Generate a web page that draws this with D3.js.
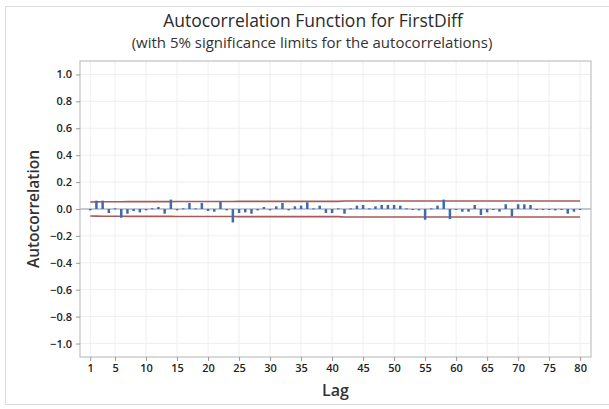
<!DOCTYPE html>
<html>
<head>
<meta charset="utf-8">
<script src="https://cdn.jsdelivr.net/npm/d3@7"></script>
<style>
  body { margin: 0; background: #fff; }
  svg { font-family: "Open Sans", "Noto Sans", sans-serif; }
</style>
</head>
<body>
<svg id="acf" width="609" height="409"></svg>
<script>
// lag 1..80
var lags = d3.range(1, 81);

var acf = [
  -0.01, 0.062, 0.062, -0.03, 0.005, -0.065, -0.035, -0.015, -0.025, -0.01,
  0.005, 0.015, -0.035, 0.07, -0.01, 0.005, 0.045, 0.005, 0.045, -0.015,
  -0.02, 0.055, -0.01, -0.1, -0.03, -0.025, -0.035, -0.01, 0.015, -0.01,
  0.02, 0.045, -0.01, 0.02, 0.025, 0.05, 0.005, 0.025, -0.03, -0.03,
  0.005, -0.035, 0.005, 0.025, 0.03, 0.005, 0.02, 0.03, 0.03, 0.03,
  0.025, 0.005, -0.005, -0.01, -0.08, 0.005, 0.025, 0.07, -0.075, -0.005,
  -0.02, -0.02, 0.03, -0.045, -0.025, -0.005, -0.02, 0.035, -0.055, 0.035,
  0.035, 0.03, 0.0, 0.0, -0.005, -0.01, 0.0, -0.035, -0.02, -0.005
];

// 5% significance limit for each lag (upper = +, lower = -)
var limits = [
  0.052, 0.053, 0.054, 0.054, 0.054, 0.054, 0.055, 0.055, 0.055, 0.055,
  0.055, 0.055, 0.055, 0.055, 0.056, 0.056, 0.056, 0.056, 0.056, 0.056,
  0.056, 0.056, 0.056, 0.056, 0.057, 0.057, 0.057, 0.057, 0.057, 0.057,
  0.057, 0.057, 0.057, 0.057, 0.057, 0.057, 0.057, 0.057, 0.057, 0.057,
  0.057, 0.060, 0.060, 0.060, 0.060, 0.060, 0.060, 0.060, 0.060, 0.060,
  0.060, 0.060, 0.060, 0.060, 0.060, 0.060, 0.060, 0.060, 0.060, 0.060,
  0.060, 0.060, 0.060, 0.060, 0.060, 0.060, 0.060, 0.060, 0.060, 0.060,
  0.060, 0.060, 0.060, 0.060, 0.060, 0.060, 0.060, 0.060, 0.060, 0.060
];

var xTicks = [1, 5, 10, 15, 20, 25, 30, 35, 40, 45, 50, 55, 60, 65, 70, 75, 80];
var yTicks = [1.0, 0.8, 0.6, 0.4, 0.2, 0.0, -0.2, -0.4, -0.6, -0.8, -1.0];

var svg = d3.select("#acf");
var m = { left: 80, right: 591, top: 61, bottom: 357 };

var x = d3.scaleLinear().domain([-0.65, 81.75]).range([m.left, m.right]);
var y = d3.scaleLinear().domain([-1.1, 1.1]).range([m.bottom, m.top]);

// outer frame
svg.append("rect")
  .attr("x", 5.5).attr("y", 6.5).attr("width", 620).attr("height", 398)
  .attr("fill", "none").attr("stroke", "#dcdcdc");

// gridlines
svg.append("g").selectAll("line").data(xTicks).join("line")
  .attr("x1", d => x(d)).attr("x2", d => x(d))
  .attr("y1", m.top).attr("y2", m.bottom)
  .attr("stroke", "#efefef");
svg.append("g").selectAll("line").data(yTicks).join("line")
  .attr("x1", m.left).attr("x2", m.right)
  .attr("y1", d => y(d)).attr("y2", d => y(d))
  .attr("stroke", "#efefef");

// zero reference
svg.append("line")
  .attr("x1", m.left).attr("x2", m.right)
  .attr("y1", y(0)).attr("y2", y(0))
  .attr("stroke", "#8c9bb0").attr("stroke-width", 1);

// limit lines
var limUp = d3.line().x((d, i) => x(lags[i])).y(d => y(d));
var limDn = d3.line().x((d, i) => x(lags[i])).y(d => y(-d));
svg.append("path").attr("d", limUp(limits))
  .attr("fill", "none").attr("stroke", "#a85a5a").attr("stroke-width", 1.6);
svg.append("path").attr("d", limDn(limits))
  .attr("fill", "none").attr("stroke", "#a85a5a").attr("stroke-width", 1.6);

// ACF bars
svg.append("g").selectAll("rect").data(acf).join("rect")
  .attr("x", (d, i) => x(lags[i]) - 1.25)
  .attr("width", 2.5)
  .attr("y", d => y(Math.max(0, d)))
  .attr("height", d => Math.max(1, Math.abs(y(d) - y(0))))
  .attr("fill", "#3d6bab");

// frame
svg.append("rect")
  .attr("x", m.left).attr("y", m.top)
  .attr("width", m.right - m.left).attr("height", m.bottom - m.top)
  .attr("fill", "none").attr("stroke", "#b4b4b4");

// axes
var yAxis = svg.append("g")
  .attr("transform", "translate(" + m.left + ",0)")
  .call(d3.axisLeft(y).tickValues(yTicks).tickFormat(d3.format(".1f")).tickSize(4).tickPadding(4));
var xAxis = svg.append("g")
  .attr("transform", "translate(0," + m.bottom + ")")
  .call(d3.axisBottom(x).tickValues(xTicks).tickSize(4).tickPadding(3));

[yAxis, xAxis].forEach(function (g) {
  g.select(".domain").remove();
  g.selectAll(".tick line").attr("stroke", "#999");
  g.selectAll(".tick text")
    .attr("fill", "#222")
    .style("font-family", "'Open Sans', sans-serif")
    .style("font-size", "11px")
    .style("font-weight", "600");
});

// titles
svg.append("text")
  .attr("x", 313).attr("y", 27)
  .attr("text-anchor", "middle")
  .attr("fill", "#2b2b2b")
  .style("font-size", "17.5px")
  .style("font-weight", "500")
  .text("Autocorrelation Function for FirstDiff");
svg.append("text")
  .attr("x", 312).attr("y", 48)
  .attr("text-anchor", "middle")
  .attr("fill", "#333")
  .style("font-size", "15px")
  .text("(with 5% significance limits for the autocorrelations)");

svg.append("text")
  .attr("transform", "translate(39," + y(0) + ") rotate(-90)")
  .attr("text-anchor", "middle")
  .attr("fill", "#333")
  .style("font-size", "15.5px")
  .style("font-weight", "600")
  .text("Autocorrelation");
svg.append("text")
  .attr("x", (m.left + m.right) / 2).attr("y", 396)
  .attr("text-anchor", "middle")
  .attr("fill", "#333")
  .style("font-size", "16px")
  .style("font-weight", "600")
  .text("Lag");
</script>
</body>
</html>
